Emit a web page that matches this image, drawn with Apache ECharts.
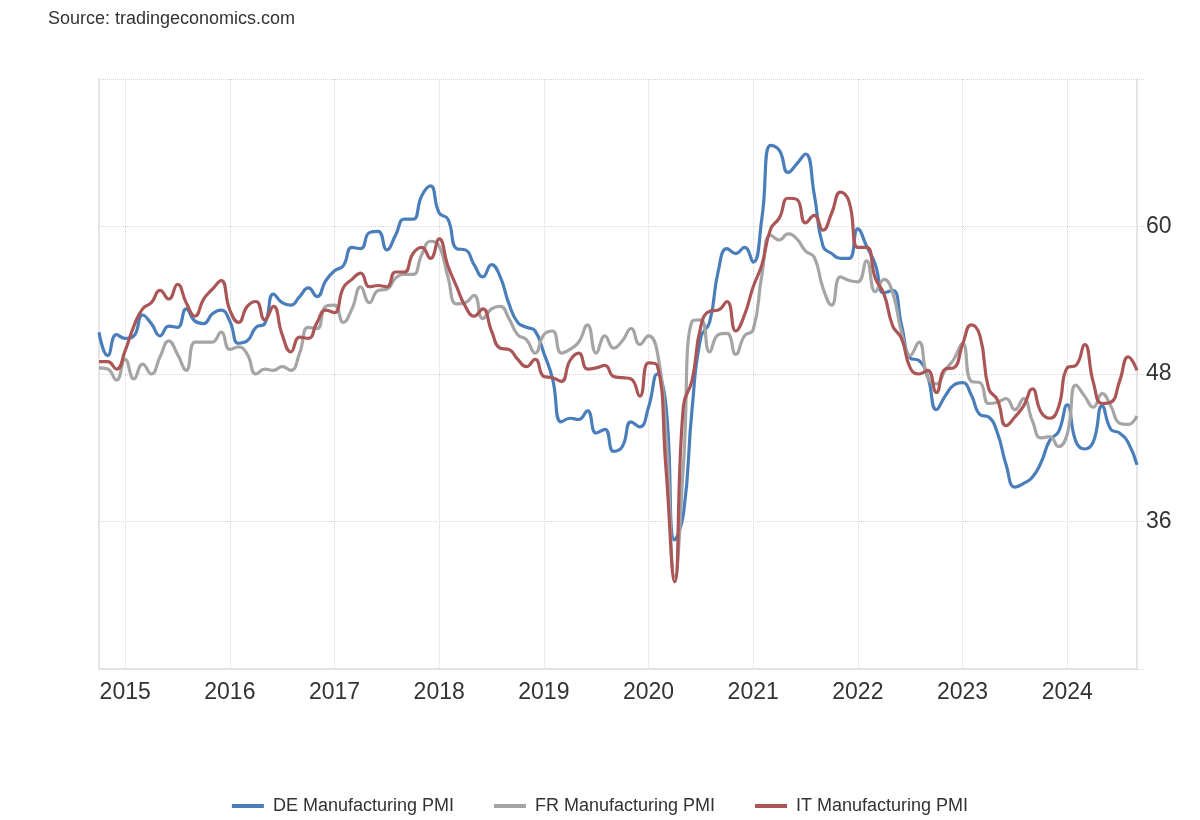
<!DOCTYPE html>
<html>
<head>
<meta charset="utf-8">
<script src="https://cdn.jsdelivr.net/npm/echarts@6/dist/echarts.min.js"></script>
<style>
html,body{margin:0;padding:0;background:#fff;}
#chart{width:1200px;height:820px;}
</style>
</head>
<body>
<div id="chart"></div>
<script>
// Monthly categories: Oct 2014 .. Sep 2024
const startYear = 2014, startMonth = 10, monthCount = 120;
const months = [];
for (let i = 0; i < monthCount; i++) {
  const m = startMonth - 1 + i;
  const y = startYear + Math.floor(m / 12);
  const mm = (m % 12) + 1;
  months.push(y + '-' + (mm < 10 ? '0' + mm : '' + mm));
}

const seriesNames = ['DE Manufacturing PMI', 'FR Manufacturing PMI', 'IT Manufacturing PMI'];

const deValues = [
  51.4, 49.5, 51.2,
  50.9, 51.1, 52.8, 52.1, 51.1, 51.9, 51.8, 53.3, 52.3, 52.1, 52.9, 53.2,
  52.3, 50.5, 50.7, 51.8, 52.1, 54.5, 53.8, 53.6, 54.3, 55.0, 54.3, 55.6,
  56.4, 56.8, 58.3, 58.2, 59.5, 59.6, 58.1, 59.3, 60.6, 60.6, 62.5, 63.3,
  61.1, 60.6, 58.2, 58.1, 56.9, 55.9, 56.9, 55.9, 53.7, 52.2, 51.8, 51.5,
  49.7, 47.6, 44.1, 44.4, 44.3, 45.0, 43.2, 43.5, 41.7, 42.1, 44.1, 43.7,
  45.3, 48.0, 45.4, 34.5, 36.6, 45.2, 51.0, 52.2, 56.4, 58.2, 57.8, 58.3,
  57.1, 60.7, 66.6, 66.2, 64.4, 65.1, 65.9, 62.6, 58.4, 57.8, 57.4, 57.4,
  59.8, 58.4, 56.9, 54.6, 54.8, 52.0, 49.3, 49.1, 47.8, 45.1, 46.2, 47.1,
  47.3, 46.3, 44.7, 44.5, 43.2, 40.6, 38.8, 39.1, 39.6, 40.8, 42.6, 43.3,
  45.5, 42.5, 41.9, 42.5, 45.4, 43.5, 43.2, 42.4, 40.6
];

const frValues = [
  48.5, 48.4, 47.5,
  49.2, 47.6, 48.8, 48.0, 49.4, 50.7, 49.6, 48.3, 50.6, 50.6, 50.6, 51.4,
  50.0, 50.2, 49.6, 48.0, 48.4, 48.3, 48.6, 48.3, 49.7, 51.8, 51.7, 53.5,
  53.6, 52.2, 53.3, 55.1, 53.8, 54.8, 54.9, 55.8, 56.1, 56.1, 57.7, 58.8,
  58.4, 55.9, 53.7, 53.8, 54.4, 52.5, 53.3, 53.5, 52.5, 51.2, 50.8, 49.7,
  51.2, 51.5, 49.7, 50.0, 50.6, 52.0, 49.7, 51.1, 50.1, 50.7, 51.7, 50.4,
  51.1, 49.8, 43.2, 31.5, 40.6, 52.3, 52.4, 49.8, 51.2, 51.3, 49.6, 51.1,
  51.6, 56.1, 59.3, 58.9, 59.4, 59.0, 58.0, 57.5, 55.0, 53.6, 55.9, 55.6,
  55.5, 57.2, 54.7, 55.7, 54.6, 51.4, 49.5, 50.6, 47.7, 47.2, 48.3, 49.2,
  50.5, 47.4, 47.3, 45.6, 45.7, 46.0, 45.1, 46.0, 44.2, 42.8, 42.9, 42.1,
  43.1, 47.1, 46.2, 45.3, 46.4, 45.4, 44.0, 43.9, 44.6
];

const itValues = [
  49.0, 49.0, 48.4,
  49.9, 51.9, 53.3, 53.8, 54.8, 54.1, 55.3, 53.8, 52.7, 54.1, 54.9, 55.6,
  53.2, 52.2, 53.5, 53.9, 52.4, 53.5, 51.2, 49.8, 51.0, 50.9, 52.2, 53.2,
  53.0, 55.0, 55.7, 56.2, 55.1, 55.2, 55.1, 56.3, 56.3, 57.8, 58.3, 57.4,
  59.0, 56.8, 55.1, 53.5, 52.7, 53.3, 51.5, 50.1, 50.0, 49.2, 48.6, 49.2,
  47.8, 47.7, 47.4, 49.1, 49.7, 48.4, 48.5, 48.7, 47.8, 47.7, 47.6, 46.2,
  48.9, 48.7, 40.3, 31.1, 45.4, 47.5, 51.9, 53.1, 53.2, 53.9, 51.5, 52.8,
  55.1, 56.9, 59.8, 60.7, 62.3, 62.2, 60.3, 60.9, 59.7, 61.1, 62.8, 62.0,
  58.3, 58.3, 55.8, 54.5, 51.9, 50.9, 48.5, 48.0, 48.3, 46.5, 48.4, 48.5,
  50.4, 52.0, 51.1, 46.8, 45.9, 43.8, 44.5, 45.4, 46.8, 44.9, 44.4, 45.3,
  48.5, 48.7, 50.4, 47.3, 45.6, 45.7, 47.4, 49.4, 48.3
];

const yTicks = [24, 36, 48, 60, 72];
const yShownLabels = [36, 48, 60];

const colors = ['#4a7ebb', '#a5a5a5', '#ab5656'];
const fontFamily = '"Liberation Sans", Arial, Helvetica, sans-serif';

const isJan = (idx, val) => String(val).slice(5) === '01';

const chart = echarts.init(document.getElementById('chart'));
chart.setOption({
  animation: false,
  backgroundColor: '#ffffff',
  color: colors,
  textStyle: { fontFamily: fontFamily },
  title: {
    text: 'Source: tradingeconomics.com',
    left: 43,
    top: 5,
    textStyle: { fontSize: 18, fontWeight: 'normal', color: '#333', fontFamily: fontFamily }
  },
  legend: {
    data: seriesNames,
    left: 'center',
    top: 792,
    icon: 'rect',
    itemWidth: 32,
    itemHeight: 4,
    itemGap: 40,
    textStyle: { fontSize: 18, color: '#333', fontFamily: fontFamily, padding: [0, 0, 0, 4] }
  },
  grid: { left: 99, right: 63, top: 79, bottom: 151, containLabel: false },
  xAxis: {
    type: 'category',
    data: months,
    boundaryGap: false,
    axisLine: { show: true, lineStyle: { color: '#dcdcdc', width: 1.5 } },
    axisTick: { show: false },
    axisLabel: {
      interval: isJan,
      formatter: v => v.slice(0, 4),
      fontSize: 23,
      color: '#333',
      margin: 12,
      fontFamily: fontFamily
    },
    splitLine: {
      show: true,
      interval: isJan,
      lineStyle: { color: '#d6d6d6', type: 'dotted', width: 1 }
    }
  },
  yAxis: [
    {
      type: 'value',
      position: 'right',
      min: yTicks[0],
      max: yTicks[yTicks.length - 1],
      interval: 12,
      axisLine: { show: true, lineStyle: { color: '#dcdcdc', width: 1.5 } },
      axisTick: { show: true, length: 8, lineStyle: { color: '#d6d6d6', type: 'dotted' } },
      axisLabel: {
        formatter: v => (yShownLabels.indexOf(v) >= 0 ? String(v) : ''),
        fontSize: 23,
        color: '#333',
        margin: 9,
        fontFamily: fontFamily
      },
      splitLine: { show: true, lineStyle: { color: '#d6d6d6', type: 'dotted', width: 1 } }
    },
    {
      type: 'value',
      position: 'left',
      min: yTicks[0],
      max: yTicks[yTicks.length - 1],
      interval: 12,
      axisLine: { show: true, lineStyle: { color: '#dcdcdc', width: 1.5 } },
      axisTick: { show: false },
      axisLabel: { show: false },
      splitLine: { show: false }
    }
  ],
  series: [
    { name: seriesNames[0], type: 'line', data: deValues, smooth: true, showSymbol: false, lineStyle: { width: 3.2 } },
    { name: seriesNames[1], type: 'line', data: frValues, smooth: true, showSymbol: false, lineStyle: { width: 3.2 } },
    { name: seriesNames[2], type: 'line', data: itValues, smooth: true, showSymbol: false, lineStyle: { width: 3.2 } }
  ]
});
</script>
</body>
</html>
